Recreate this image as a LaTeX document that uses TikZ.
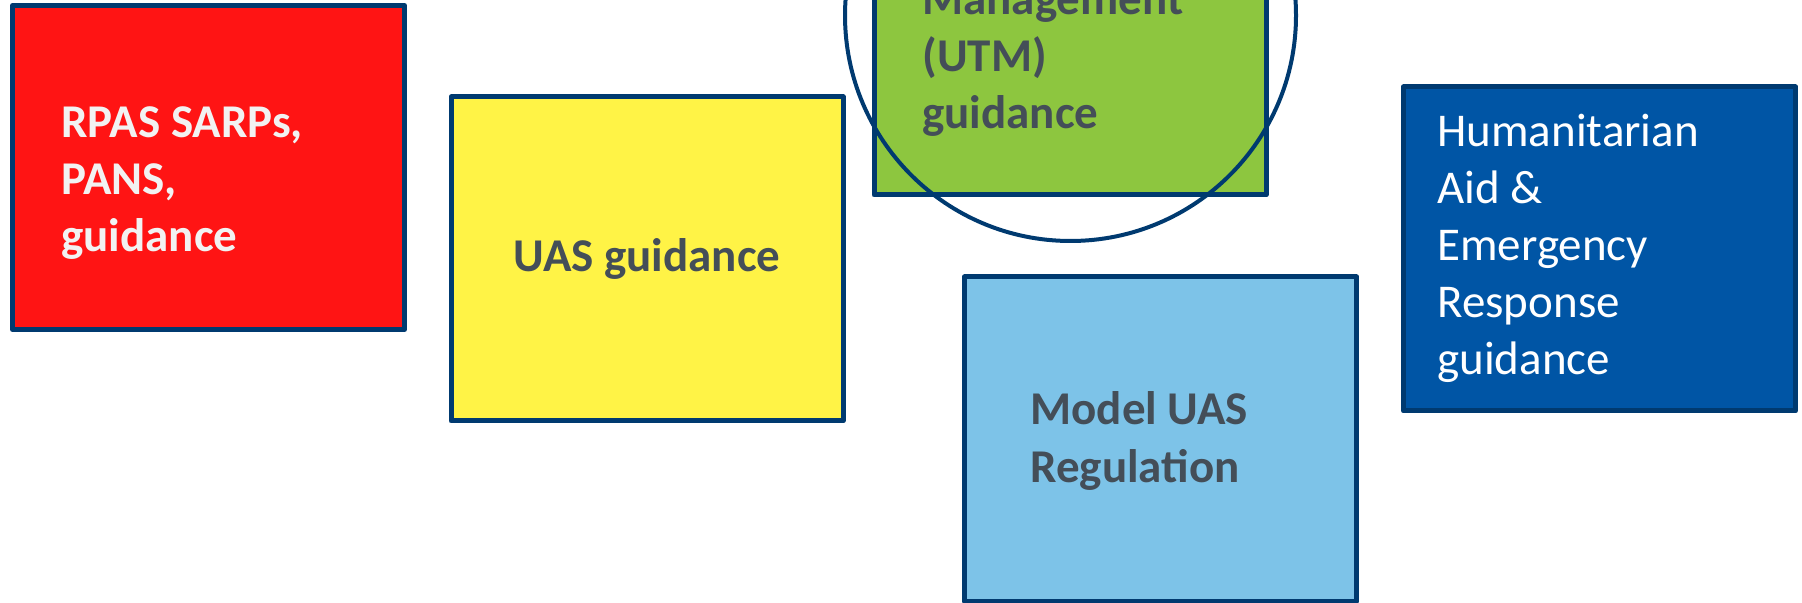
\documentclass[tikz,border=0pt]{standalone}
\usepackage{fontspec}
\setmainfont{Carlito}
\usepackage{tikz}
\usetikzlibrary{shapes}

\definecolor{rimblue}{RGB}{0,58,112}
\definecolor{slate}{RGB}{68,78,88}
\definecolor{paper}{RGB}{242,242,242}
\definecolor{redbox}{RGB}{255,20,20}
\definecolor{yellowbox}{RGB}{255,243,70}
\definecolor{greenbox}{RGB}{141,198,63}
\definecolor{skybox}{RGB}{125,195,232}
\definecolor{bluebox}{RGB}{0,85,165}

\begin{document}
\begin{tikzpicture}[x=0.5pt,y=-0.5pt]

\tikzstyle{every node}=[inner sep=0pt, font=\fontsize{23.5}{28.6}\selectfont]
\tikzstyle{panel}=[rectangle, draw=rimblue, line width=2.5pt, line join=round,
                   minimum width=196pt, minimum height=162pt]
% base = baseline of the last line
\tikzstyle{caption}=[anchor=base west, align=left, text=slate,
                     font=\fontsize{23.5}{28.6}\selectfont\bfseries]

\useasboundingbox (0,0) rectangle (1802,603);
\clip (0,0) rectangle (1802,603);

\node[panel, fill=redbox] (sarps) at (208.5,167.5) {};
\node[caption, text=paper] (sarpstxt) at (61,252) {RPAS SARPs,\\PANS,\\guidance};

\node[panel, fill=yellowbox, text=slate, font=\fontsize{23.5}{28.6}\selectfont\bfseries] (uas) at (647,259) {UAS guidance};

\node[panel, fill=greenbox] (utm) at (1070,33) {};
\node[caption] (utmtxt) at (922,129) {Management\\(UTM)\\guidance};
\node[circle, draw=rimblue, line width=2pt, minimum size=225.5pt] (ring) at (1070.5,15.5) {};

\node[panel, fill=skybox] (model) at (1160.5,439) {};
\node[caption] (modeltxt) at (1030,482) {Model UAS\\Regulation};

\node[panel, fill=bluebox] (relief) at (1599.5,249) {};
\node[caption, text=white, font=\fontsize{23.5}{28.6}\selectfont] (relieftxt) at (1437,375)
     {Humanitarian\\Aid \&\\Emergency\\Response\\guidance};

\end{tikzpicture}
\end{document}
